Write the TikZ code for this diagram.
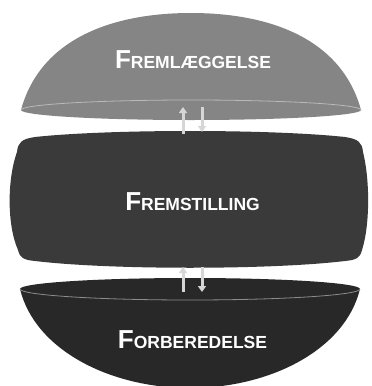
\documentclass[tikz,border=0pt]{standalone}
\usepackage{fontspec}
\newfontfamily\labelfont{Liberation Sans}
\usepackage{xcolor}
\definecolor{domegray}{RGB}{133,133,133}
\definecolor{domerim}{RGB}{185,185,185}
\definecolor{blockgray}{RGB}{58,58,58}
\definecolor{bowlgray}{RGB}{40,40,40}
\definecolor{bowlrim}{RGB}{140,140,140}
\definecolor{arrowgray}{RGB}{214,214,214}
\usetikzlibrary{arrows.meta, positioning}

% fake small caps: big first letter, smaller rest
\newcommand{\capword}[2]{{\fontsize{26}{26}\selectfont #1}{\fontsize{17.5}{18}\selectfont #2}}

\begin{document}
\begin{tikzpicture}[x=1pt, y=-1pt,
    phase/.style={font=\labelfont\bfseries, text=white, anchor=base, inner sep=0pt},
    flow/.style={draw=arrowgray, line width=3pt, -{Triangle[width=8pt, length=6pt]}}]
\useasboundingbox (0,0) rectangle (372,386);

% --- Top dome ---
\fill[domegray] (21,110) .. controls (40,40) and (110,13) .. (191,13)
  .. controls (272,13) and (342,40) .. (361,110)
  .. controls (361,115.5) and (285,120) .. (191,120)
  .. controls (97,120) and (21,115.5) .. (21,110) -- cycle;
\draw[domerim, line width=0.8pt] (21,110) .. controls (21,104.5) and (97,100) .. (191,100)
  .. controls (285,100) and (361,104.5) .. (361,110);
\node[phase] (fremlaeg) at (193,68) {\capword{F}{REMLÆGGELSE}};

% --- Middle block ---
\fill[blockgray] (35,137) .. controls (110,129) and (270,129) .. (345,137)
  .. controls (358,139) and (362,142) .. (363,152)
  .. controls (370,180) and (370,225) .. (362,250)
  .. controls (360,258) and (356,260) .. (345,261)
  .. controls (270,270) and (110,270) .. (35,261)
  .. controls (24,260) and (20,258) .. (18,250)
  .. controls (7,225) and (7,180) .. (17,152)
  .. controls (18,142) and (22,139) .. (35,137) -- cycle;
\node[phase] (fremstil) at (192.5,210) {\capword{F}{REMSTILLING}};

% --- Bottom bowl ---
\fill[bowlgray] (20,289) .. controls (20,283) and (96,278) .. (190,278)
  .. controls (284,278) and (360,283) .. (360,289)
  .. controls (345,350) and (270,388) .. (190,388)
  .. controls (110,388) and (35,350) .. (20,289) -- cycle;
\draw[bowlrim, line width=0.8pt] (20,289) .. controls (20,295) and (96,300) .. (190,300)
  .. controls (284,300) and (360,295) .. (360,289);
\node[phase] (forbered) at (192.5,348) {\capword{F}{ORBEREDELSE}};

% --- Arrows between the phases ---
\coordinate (upA0) at (183,134);  \coordinate (upA1) at (183,107);
\coordinate (dnA0) at (202,107);  \coordinate (dnA1) at (202,132);
\coordinate (upB0) at (183,292);  \coordinate (upB1) at (183,267);
\coordinate (dnB0) at (202,267);  \coordinate (dnB1) at (202,292);
\draw[flow] (upA0) -- (upA1);
\draw[flow] (dnA0) -- (dnA1);
\draw[flow] (upB0) -- (upB1);
\draw[flow] (dnB0) -- (dnB1);

\end{tikzpicture}
\end{document}
